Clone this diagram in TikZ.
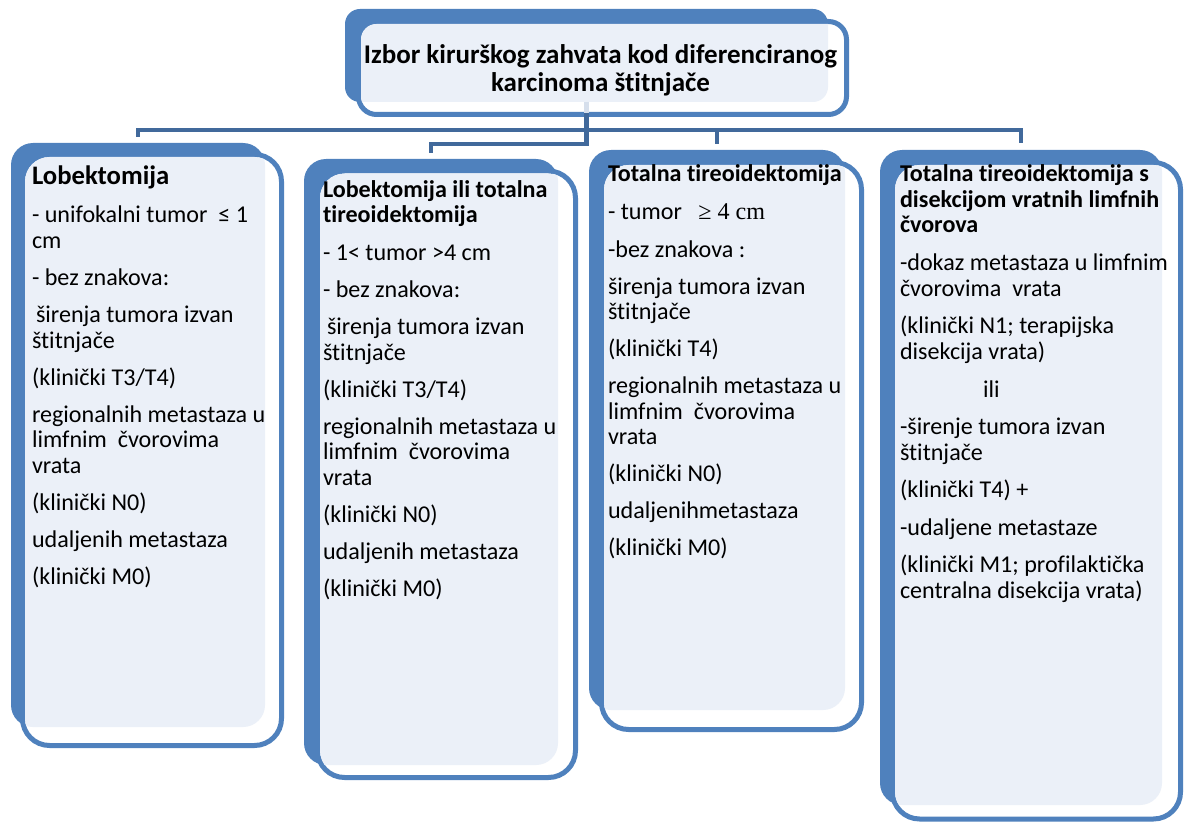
\documentclass[tikz,border=0pt]{standalone}
\usepackage{fontspec}
\setmainfont{Carlito}[Ligatures={NoCommon,NoContextual}]
\newfontfamily\serifpart{Liberation Serif}
\usetikzlibrary{calc}
\definecolor{boxblue}{HTML}{4F81BD}
\definecolor{connblue}{HTML}{41699B}
\definecolor{lightfill}{HTML}{EBF0F8}
\definecolor{paleline}{HTML}{D6DFEC}
\setlength{\lineskiplimit}{-100pt}
\newcommand{\parstep}{\\[11.5pt]}
\tikzset{
  backbox/.style={rectangle, fill=boxblue, rounded corners=#1, inner sep=0pt, outer sep=0pt, anchor=north west},
  frontbox/.style={rectangle, fill=white, draw=boxblue, line width=5pt, rounded corners=#1, inner sep=0pt, outer sep=0pt, anchor=north west},
  bodytext/.style={anchor=base west, inner sep=0pt, outer sep=0pt, text width=330pt, align=flush left, font=\fontsize{24.1}{25.5}\selectfont},
  conn/.style={draw=connblue, line width=4.5pt},
  paleconn/.style={draw=paleline, line width=4.5pt},
}
\newcommand{\lightpart}[4]{%
  \begin{scope}
    \clip[rounded corners=#3] (#1.north west) rectangle (#1.south east);
    \fill[lightfill, rounded corners=#4] ($(#2.north west)+(2.5,2.5)$) rectangle ($(#2.south east)+(-2.5,-2.5)$);
  \end{scope}}
\begin{document}
\begin{tikzpicture}[x=1pt,y=-1pt]
\useasboundingbox (0,0) rectangle (1190,821);

% top box
\node[backbox=15pt, minimum width=483pt, minimum height=93pt] (b0) at (345,9) {};
\node[frontbox=18pt, minimum width=488pt, minimum height=93pt] (f0) at (358.5,21.5) {};
\lightpart{b0}{f0}{15pt}{15.5pt}

% box 1
\node[backbox=22pt, minimum width=254pt, minimum height=584pt] (b1) at (11,143) {};
\node[frontbox=27pt, minimum width=259pt, minimum height=591pt] (f1) at (22.5,154.5) {};
\lightpart{b1}{f1}{22pt}{24.5pt}

% box 2
\node[backbox=22pt, minimum width=254pt, minimum height=606pt] (b2) at (304,159) {};
\node[frontbox=27pt, minimum width=258pt, minimum height=606.5pt] (f2) at (317.5,171) {};
\lightpart{b2}{f2}{22pt}{24.5pt}

% box 3
\node[backbox=22pt, minimum width=256pt, minimum height=560pt] (b3) at (589,150) {};
\node[frontbox=27pt, minimum width=260pt, minimum height=567pt] (f3) at (601.5,162.5) {};
\lightpart{b3}{f3}{22pt}{24.5pt}

% box 4
\node[backbox=22pt, minimum width=282pt, minimum height=655pt] (b4) at (880,150) {};
\node[frontbox=27pt, minimum width=288pt, minimum height=656.5pt] (f4) at (892.5,162.5) {};
\lightpart{b4}{f4}{22pt}{24.5pt}

% connectors
\coordinate (hub) at ($(b0.south)+(0,28)$);
\draw[paleconn] (b0.south) -- ++(0,11);
\draw[conn] ($(b0.south)+(0,11)$) |- ($(b2.north)+(0,-15)$) -- ($(b2.north)+(0,-6)$);
\draw[conn] ($(b1.north)+(0,-6)$) |- (hub) -| ($(b4.north)+(0,-7)$);
\draw[conn] (b3.north |- hub) -- ($(b3.north)+(0,-6)$);

% texts
\node[anchor=base, inner sep=0pt, text width=560pt, align=flush center, font=\fontsize{27}{28}\selectfont\bfseries] (title) at (600.5,64) {Izbor kirurškog zahvata kod diferenciranog\\karcinoma štitnjače};

\node[bodytext] (t1) at (32,185) {{\fontsize{26.7}{25.5}\selectfont\bfseries Lobektomija}\\[12.5pt]
- unifokalni tumor\ \ ≤ 1\\
cm\parstep
- bez znakova:\parstep
\hspace*{4pt}širenja tumora izvan\\
štitnjače\parstep
(klinički T3/T4)\parstep
regionalnih metastaza u\\
limfnim\ \ čvorovima\\
vrata\parstep
(klinički N0)\parstep
udaljenih metastaza\parstep
(klinički M0)};

\node[bodytext] (t2) at (323,197) {{\bfseries Lobektomija ili totalna\\
tireoidektomija}\\[12.5pt]
- 1< tumor >4 cm\parstep
- bez znakova:\parstep
\hspace*{4pt}širenja tumora izvan\\
štitnjače\parstep
(klinički T3/T4)\parstep
regionalnih metastaza u\\
limfnim\ \ čvorovima\\
vrata\parstep
(klinički N0)\parstep
udaljenih metastaza\parstep
(klinički M0)};

\node[bodytext] (t3) at (608,182) {{\bfseries Totalna tireoidektomija}\\[12.5pt]
- tumor\ \ \ {\serifpart ≥ 4 cm}\parstep
-bez znakova :\parstep
širenja tumora izvan\\
štitnjače\parstep
(klinički T4)\parstep
regionalnih metastaza u\\
limfnim\ \ čvorovima\\
vrata\parstep
(klinički N0)\parstep
udaljenihmetastaza\parstep
(klinički M0)};

\node[bodytext] (t4) at (900,182) {{\bfseries Totalna tireoidektomija s\\
disekcijom vratnih limfnih\\
čvorova}\\[12.5pt]
-dokaz metastaza u limfnim\\
čvorovima\ \ vrata\\[12pt]
(klinički N1; terapijska\\
disekcija vrata)\\[12pt]
\hspace*{83pt}ili\\[12pt]
-širenje tumora izvan\\
štitnjače\\[12pt]
(klinički T4) +\\[12pt]
-udaljene metastaze\\[12pt]
(klinički M1; profilaktička\\
centralna disekcija vrata)};
\end{tikzpicture}
\end{document}
